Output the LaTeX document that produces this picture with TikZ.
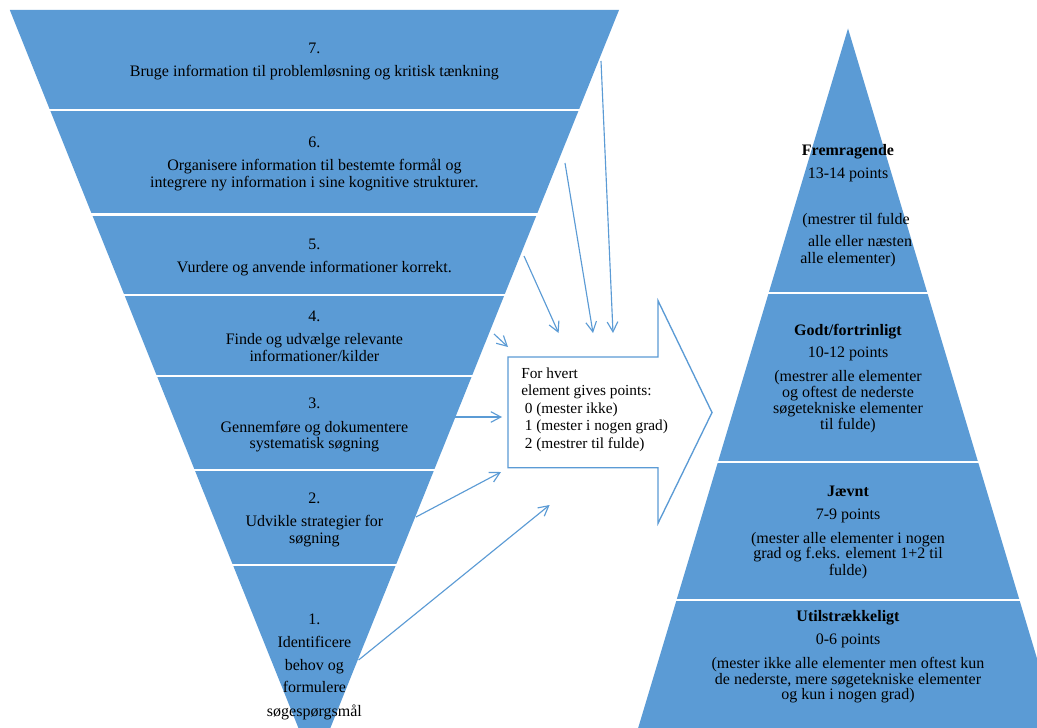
\documentclass[tikz,border=0pt]{standalone}
\usepackage{fontspec}
\setmainfont{Liberation Serif}
\usetikzlibrary{arrows.meta}
\definecolor{bandblue}{HTML}{5B9BD5}
\tikzset{
  band/.style={fill=bandblue, draw=none},
  sep/.style={draw=white, line width=1.6pt},
  lbl/.style={anchor=base, inner sep=0pt, font=\fontsize{12}{14}\selectfont},
  blbl/.style={lbl, font=\fontsize{12}{14}\selectfont\bfseries},
  boxlbl/.style={anchor=base west, inner sep=0pt, font=\fontsize{11.5}{13}\selectfont},
  feed/.style={draw=bandblue, line width=0.85pt, -{Straight Barb[length=7.5pt,width=8pt]}},
  bigarrow/.style={draw=bandblue, fill=white, line width=1pt, line join=miter}
}
\begin{document}
\begin{tikzpicture}[x=0.75pt,y=-0.75pt]
\clip (0,0) rectangle (1037,727);
\fill[white] (0,0) rectangle (1037,727);

% ---- inverted funnel (7 bands) ----
\path[band] (9.8,10) -- (619,10) -- (578.8,110) -- (50,110) -- cycle;
\path[band] (50,110) -- (578.8,110) -- (536.8,214.5) -- (92,214.5) -- cycle;
\path[band] (92,214.5) -- (536.8,214.5) -- (504.4,295) -- (124.4,295) -- cycle;
\path[band] (124.4,295) -- (504.4,295) -- (471.9,376) -- (156.9,376) -- cycle;
\path[band] (156.9,376) -- (471.9,376) -- (434.1,470) -- (194.7,470) -- cycle;
\path[band] (194.7,470) -- (434.1,470) -- (395.9,565) -- (232.9,565) -- cycle;
\path[band] (232.9,565) -- (395.9,565) -- (314.4,767.7) -- cycle;
\draw[sep] (49,110) -- (580,110);
\draw[sep] (91,214.5) -- (538,214.5);
\draw[sep] (123,295) -- (506,295);
\draw[sep] (155,376) -- (473,376);
\draw[sep] (193,470) -- (436,470);
\draw[sep] (231,565) -- (398,565);

% ---- pyramid (4 bands) ----
\path[band] (848,28.5) -- (927.35,293) -- (768.65,293) -- cycle;
\path[band] (768.65,293) -- (927.35,293) -- (978.05,462) -- (717.95,462) -- cycle;
\path[band] (717.95,462) -- (978.05,462) -- (1019.45,600) -- (676.55,600) -- cycle;
\path[band] (676.55,600) -- (1019.45,600) -- (1061.45,740) -- (634.55,740) -- cycle;
\draw[sep] (767,293) -- (929,293);
\draw[sep] (716,462) -- (980,462);
\draw[sep] (675,600) -- (1021,600);

% ---- block arrow ----
\draw[bigarrow] (508,357) -- (658,357) -- (658,300.7) -- (712,412.5)
  -- (658,523.3) -- (658,467.7) -- (508,467.7) -- cycle;

% ---- funnel texts ----
\node[lbl] (n7) at (314.4,54) {7.};
\node[lbl] (t7) at (314.4,77) {Bruge information til problemløsning og kritisk tænkning};
\node[lbl] (n6) at (314.4,148) {6.};
\node[lbl] (t6a) at (314.4,171) {Organisere information til bestemte formål og};
\node[lbl] (t6b) at (314.4,188) {integrere ny information i sine kognitive strukturer.};
\node[lbl] (n5) at (314.4,249) {5.};
\node[lbl] (t5) at (314.4,272) {Vurdere og anvende informationer korrekt.};
\node[lbl] (n4) at (314.4,321) {4.};
\node[lbl] (t4a) at (314.4,344) {Finde og udvælge relevante};
\node[lbl] (t4b) at (314.4,361) {informationer/kilder};
\node[lbl] (n3) at (314.4,408) {3.};
\node[lbl] (t3a) at (314.4,432) {Gennemføre og dokumentere};
\node[lbl] (t3b) at (314.4,448) {systematisk søgning};
\node[lbl] (n2) at (314.4,503) {2.};
\node[lbl] (t2a) at (314.4,526) {Udvikle strategier for};
\node[lbl] (t2b) at (314.4,543) {søgning};
\node[lbl] (n1) at (314.4,624) {1.};
\node[lbl] (t1a) at (314.4,647) {Identificere};
\node[lbl] (t1b) at (314.4,670) {behov og};
\node[lbl] (t1c) at (314.4,692) {formulere};
\node[lbl] (t1d) at (314.4,716) {søgespørgsmål};

% ---- box texts ----
\node[boxlbl] (b1) at (521,378) {For hvert};
\node[boxlbl] (b2) at (521,395) {element gives points:};
\node[boxlbl] (b3) at (524.6,413) {0 (mester ikke)};
\node[boxlbl] (b4) at (524.6,430) {1 (mester i nogen grad)};
\node[boxlbl] (b5) at (524.6,448) {2 (mestrer til fulde)};

% ---- pyramid texts ----
\node[blbl] (p4h) at (848,155.5) {Fremragende};
\node[lbl] (p4p) at (848,178.5) {13-14 points};
\node[lbl] (p4a) at (856,224) {(mestrer til fulde};
\node[lbl] (p4b) at (860,246.7) {alle eller næsten};
\node[lbl] (p4c) at (848,263.3) {alle elementer)};
\node[blbl] (p3h) at (848,335) {Godt/fortrinligt};
\node[lbl] (p3p) at (848,357) {10-12 points};
\node[lbl] (p3a) at (848,381) {(mestrer alle elementer};
\node[lbl] (p3b) at (848,397.6) {og oftest de nederste};
\node[lbl] (p3c) at (848,413.8) {søgetekniske elementer};
\node[lbl] (p3d) at (848,429.5) {til fulde)};
\node[blbl] (p2h) at (848,496.7) {Jævnt};
\node[lbl] (p2p) at (848,519) {7-9 points};
\node[lbl] (p2a) at (848,543) {(mester alle elementer i nogen};
\node[lbl] (p2b) at (848,558.7) {grad og f.eks. element 1+2 til};
\node[lbl] (p2c) at (848,575.4) {fulde)};
\node[blbl] (p1h) at (848,621.7) {Utilstrækkeligt};
\node[lbl] (p1p) at (848,644.8) {0-6 points};
\node[lbl] (p1a) at (848,668) {(mester ikke alle elementer men oftest kun};
\node[lbl] (p1b) at (848,684.2) {de nederste, mere søgetekniske elementer};
\node[lbl] (p1c) at (848,699.4) {og kun i nogen grad)};

% ---- feeding arrows ----
\coordinate (s7) at (601,61);    \coordinate (e7) at (613,333);
\coordinate (s6) at (565,163);   \coordinate (e6) at (593,333);
\coordinate (s5) at (524,256);   \coordinate (e5) at (558.6,333);
\coordinate (s4) at (494,334);   \coordinate (e4) at (508,347);
\coordinate (s3) at (455,417);   \coordinate (e3) at (502,417);
\coordinate (s2) at (416,517);   \coordinate (e2) at (501,472);
\coordinate (s1) at (358.6,660); \coordinate (e1) at (549.6,505);
\foreach \i in {1,...,7} { \draw[feed] (s\i) -- (e\i); }
\end{tikzpicture}
\end{document}
